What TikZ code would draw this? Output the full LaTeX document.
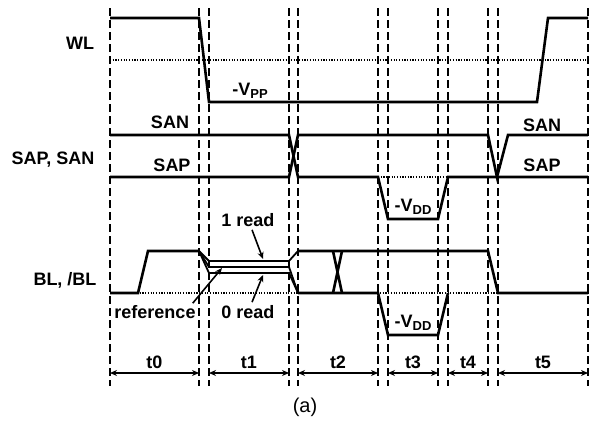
\documentclass[tikz,border=0pt]{standalone}
\usepackage{fontspec}
\setmainfont{Liberation Sans}
\usetikzlibrary{arrows.meta}
\newcommand{\sbs}[1]{\raisebox{-3pt}{\fontsize{13}{13}\selectfont #1}}

\begin{document}
\begin{tikzpicture}[x=1pt, y=-1pt,
    wave/.style={line width=2.6pt},
    thin wave/.style={line width=1.8pt},
    grid/.style={line width=1.8pt, dash pattern=on 8pt off 4pt},
    level/.style={line width=1.1pt, dash pattern=on 1.2pt off 1.5pt},
    lbl/.style={font=\bfseries\fontsize{18}{18}\selectfont, inner sep=0pt},
    span/.style={{Stealth[length=7pt,width=6pt]}-{Stealth[length=7pt,width=6pt]}, line width=1.4pt},
    pointer/.style={-{Stealth[length=7pt,width=6pt]}, line width=1.6pt}]
    \useasboundingbox (0,0) rectangle (595,439);

    % Time markers
    \foreach \x in {110,199,209,289,298,378,388,438,448,488,498,588}
        \draw[grid] (\x,8) -- (\x,386);

    % Reference levels
    \draw[level] (110,60) -- (588,60);
    \draw[level] (378,177) -- (448,177);
    \draw[level] (110,293) -- (588,293);

    % WL
    \draw[wave] (110,18) -- (199,18) -- (209,102) -- (537,102) -- (548,18) -- (588,18);
    \node[lbl] (wl) at (80,43) {WL};
    \node[lbl] (vpp) at (250,91) {-V\sbs{PP}};

    % SAP, SAN
    \draw[wave] (110,135) -- (289,135) -- (298,177) -- (378,177) -- (388,219) -- (438,219) -- (448,177) -- (588,177);
    \draw[wave] (110,177) -- (289,177) -- (298,135) -- (488,135) -- (497,177) -- (508,135) -- (588,135);
    \node[lbl] (sa) at (53,160) {SAP, SAN};
    \node[lbl] (san1) at (170,122) {SAN};
    \node[lbl] (sap1) at (172,165) {SAP};
    \node[lbl] (san2) at (542,125) {SAN};
    \node[lbl] (sap2) at (542,165) {SAP};
    \node[lbl] (vdd1) at (413,207) {-V\sbs{DD}};

    % BL, /BL
    \draw[wave] (110,293) -- (138,293) -- (148,251) -- (199,251);
    \draw[thin wave] (199,251) -- (209,261) -- (289,261) -- (298,251);
    \draw[thin wave] (199,251) -- (209,267) -- (289,267) -- (298,293);
    \draw[thin wave] (199,251) -- (209,273) -- (289,273) -- (298,293);
    \draw[wave] (298,251) -- (488,251) -- (498,293) -- (588,293);
    \draw[wave] (298,293) -- (378,293) -- (388,335) -- (438,335) -- (448,293);
    \draw[wave] (333,251) -- (342,293) (333,293) -- (342,251);
    \node[lbl] (bl) at (65,280) {BL, /BL};
    \node[lbl] (vdd2) at (413,323) {-V\sbs{DD}};

    % Read levels
    \node[lbl] (one) at (248,220) {1 read};
    \node[lbl] (zero) at (248,312) {0 read};
    \node[lbl] (refl) at (155,312) {reference};
    \coordinate (one tip) at (263,259);
    \coordinate (zero tip) at (263,275);
    \coordinate (ref tip) at (222,268);
    \draw[pointer] ([xshift=4pt,yshift=-3pt]one.south) -- (one tip);
    \draw[pointer] ([xshift=4pt,yshift=3pt]zero.north) -- (zero tip);
    \draw[pointer] ([xshift=-3pt,yshift=2pt]refl.north east) -- (ref tip);

    % Phases
    \foreach \a/\b/\t in {110/199/t0, 209/289/t1, 298/378/t2, 388/438/t3, 448/488/t4, 498/588/t5}
        \draw[span] (\a,373) -- (\b,373) node[midway, above=4pt, lbl] (\t) {\t};

    \node[font=\fontsize{20}{20}\selectfont] (cap) at (305,407) {(a)};
\end{tikzpicture}
\end{document}
